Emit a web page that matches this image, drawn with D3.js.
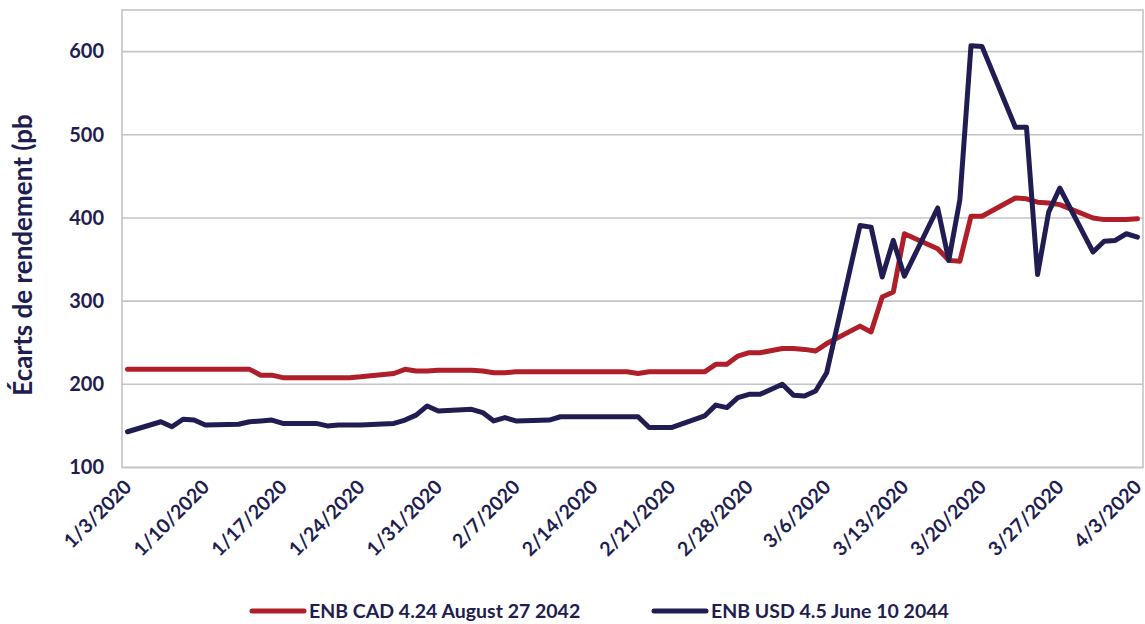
<!DOCTYPE html>
<html>
<head>
<meta charset="utf-8">
<script src="https://cdn.jsdelivr.net/npm/d3@7"></script>
<style>
  html, body { margin: 0; padding: 0; background: #fff; }
  svg { display: block; }
  text { font-family: Lato, "Open Sans", sans-serif; font-weight: 700; fill: #211d50; }
</style>
</head>
<body>
<svg id="chart" width="1145" height="624"></svg>
<script>
const dates = [
  "2020-01-03","2020-01-06","2020-01-07","2020-01-08","2020-01-09","2020-01-10",
  "2020-01-13","2020-01-14","2020-01-15","2020-01-16","2020-01-17",
  "2020-01-20","2020-01-21","2020-01-22","2020-01-23","2020-01-24",
  "2020-01-27","2020-01-28","2020-01-29","2020-01-30","2020-01-31",
  "2020-02-03","2020-02-04","2020-02-05","2020-02-06","2020-02-07",
  "2020-02-10","2020-02-11","2020-02-12","2020-02-13","2020-02-14",
  "2020-02-17","2020-02-18","2020-02-19","2020-02-20","2020-02-21",
  "2020-02-24","2020-02-25","2020-02-26","2020-02-27","2020-02-28","2020-02-29",
  "2020-03-02","2020-03-03","2020-03-04","2020-03-05","2020-03-06",
  "2020-03-09","2020-03-10","2020-03-11","2020-03-12","2020-03-13",
  "2020-03-16","2020-03-17","2020-03-18","2020-03-19","2020-03-20",
  "2020-03-23","2020-03-24","2020-03-25","2020-03-26","2020-03-27",
  "2020-03-30","2020-03-31","2020-04-01","2020-04-02","2020-04-03"
];
const cadValues = [
  218,218,218,218,218,218,
  218,218,211,211,208,
  208,208,208,208,209,
  213,218,216,216,217,
  217,216,214,214,215,
  215,215,215,215,215,
  215,213,215,215,215,
  215,224,224,234,238,238,
  243,243,242,240,249,
  270,263,305,311,381,
  363,349,348,402,402,
  424,423,419,418,416,
  400,398,398,398,399
];
const usdValues = [
  143,155,149,158,157,151,
  152,155,156,157,153,
  153,150,151,151,151,
  153,157,163,174,168,
  170,166,156,160,156,
  157,161,161,161,161,
  161,161,148,148,148,
  162,175,172,184,188,188,
  200,187,186,192,214,
  391,389,329,373,330,
  412,349,422,607,606,
  509,509,332,407,436,
  359,372,373,381,377
];
const seriesNames = ["ENB CAD 4.24 August 27 2042", "ENB USD 4.5 June 10 2044"];
const seriesColors = ["#b01f29", "#211d52"];
const yTicks = [100, 200, 300, 400, 500, 600];
const xTickLabels = ["1/3/2020","1/10/2020","1/17/2020","1/24/2020","1/31/2020","2/7/2020","2/14/2020",
  "2/21/2020","2/28/2020","3/6/2020","3/13/2020","3/20/2020","3/27/2020","4/3/2020"];
const yTitle = "Écarts de rendement (pb";

const svg = d3.select("#chart");
const L = 122, R = 1143, T = 10, B = 467.5;
const parse = d3.utcParse("%Y-%m-%d");
const parseTick = d3.utcParse("%m/%d/%Y");
const x = d3.scaleUtc()
  .domain([d3.utcHour.offset(parse(dates[0]), -12), d3.utcHour.offset(parse(dates[dates.length-1]), 12)])
  .range([L, R]);
const y = d3.scaleLinear().domain([100, 650]).range([B, T]);

// gridlines
const grid = svg.append("g");
grid.selectAll("line").data(yTicks).join("line")
  .attr("x1", L).attr("x2", R)
  .attr("y1", d => y(d)).attr("y2", d => y(d))
  .attr("stroke", "#c4c4c4").attr("stroke-width", 1.6);
svg.append("rect").attr("x", L).attr("y", T).attr("width", R - L).attr("height", B - T)
  .attr("fill", "none").attr("stroke", "#c4c4c4").attr("stroke-width", 1.6);

// y axis
const yAxis = d3.axisLeft(y).tickValues(yTicks).tickSize(0).tickPadding(18);
const yg = svg.append("g").attr("transform", `translate(${L},0)`).call(yAxis);
yg.select(".domain").remove();
yg.selectAll("text").style("font-size", "20px").style("font-family", "Lato, sans-serif").attr("fill", "#211d50");

// x axis
const xAxis = d3.axisBottom(x).tickValues(xTickLabels.map(s => parseTick(s)))
  .tickFormat((d, i) => xTickLabels[i]).tickSize(0);
const xg = svg.append("g").attr("transform", `translate(0,${B})`).call(xAxis);
xg.select(".domain").remove();
xg.selectAll("text")
  .style("font-size", "19.5px").style("font-family", "Lato, sans-serif").attr("fill", "#211d50")
  .attr("text-anchor", "end")
  .attr("y", 0).attr("dy", "0.35em")
  .attr("transform", "translate(0,16) rotate(-45)");

// y title
svg.append("text")
  .attr("transform", `translate(32,255) rotate(-90)`)
  .attr("text-anchor", "middle")
  .style("font-size", "26px")
  .text(yTitle);

// lines
const parsed = dates.map(parse);
const line = d3.line().x(d => x(d[0])).y(d => y(d[1]));
[cadValues, usdValues].forEach((vals, i) => {
  svg.append("path")
    .datum(parsed.map((d, j) => [d, vals[j]]))
    .attr("fill", "none")
    .attr("stroke", seriesColors[i])
    .attr("stroke-width", 5)
    .attr("stroke-linejoin", "round")
    .attr("stroke-linecap", "round")
    .attr("d", line);
});

// legend
const legendX = [252, 654];
seriesNames.forEach((name, i) => {
  const g = svg.append("g").attr("transform", `translate(${legendX[i]},611)`);
  g.append("line").attr("x1", 0).attr("x2", 52).attr("y1", 0).attr("y2", 0)
    .attr("stroke", seriesColors[i]).attr("stroke-width", 5).attr("stroke-linecap", "round");
  g.append("text").attr("x", 57).attr("y", 0).attr("dy", "0.35em")
    .style("font-size", "19.5px").text(name);
});
</script>
</body>
</html>
